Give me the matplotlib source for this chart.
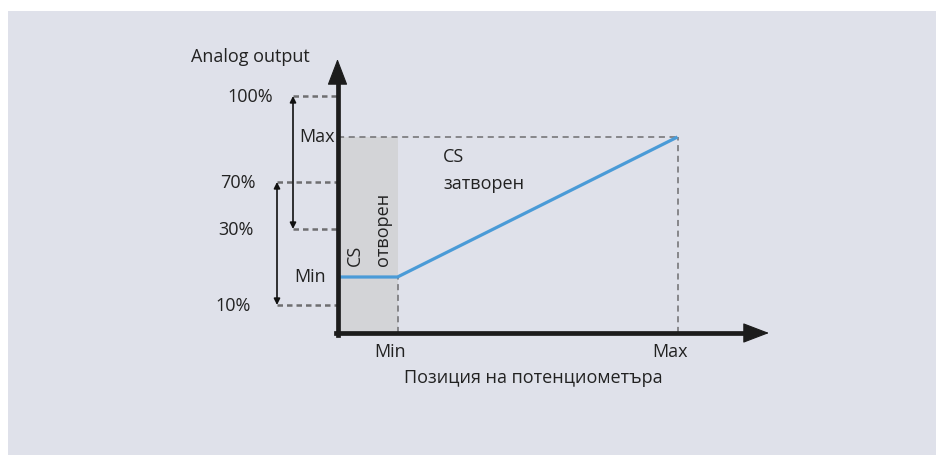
import matplotlib
matplotlib.use("Agg")
import matplotlib.pyplot as plt
from matplotlib.patches import Rectangle

plt.rcParams['font.family'] = ['Open Sans', 'DejaVu Sans']

# ---- data (chart units: origin at axes corner) ----
pos_min = 60          # potentiometer Min position
pos_max = 340         # potentiometer Max position
out_min = 56          # Min output level
out_max = 196         # Max output level
pct_labels = ["100%", "70%", "30%", "10%"]
pct_levels = [237, 151, 104, 28]
line_x = [2, pos_min, pos_max]
line_y = [out_min, out_min, out_max]
x_tick_labels = ["Min", "Max"]
x_tick_pos = [pos_min, pos_max]

W, H = 936, 456
OX, OY = 337.5, 334
fig = plt.figure(figsize=(W / 100, H / 100), dpi=100, facecolor='white')
ax = fig.add_axes([0, 0, 1, 1])
ax.set_xlim(-OX, W - OX)
ax.set_ylim(OY - H, OY)
ax.axis('off')

def px(x):
    return x - OX

def py(y):
    return OY - y

# panel background
ax.add_patch(Rectangle((px(8), py(456)), W - 8, 456 - 12, facecolor='#dfe1ea', edgecolor='none', zorder=0))

txt = '#222222'
fs = 13

# gray shaded region
ax.add_patch(Rectangle((2, 0), pos_min - 2, out_max, facecolor='#d3d4d7', edgecolor='none', zorder=1))

# dashed guides
dash_c = '#6e6e70'
ax.plot([0, pos_max], [out_max, out_max], color=dash_c, lw=1.1, ls=(0, (4, 3)), zorder=2)
ax.plot([pos_min, pos_min], [0, out_min], color=dash_c, lw=1.1, ls=(0, (4, 3)), zorder=2)
ax.plot([pos_max, pos_max], [0, out_max], color=dash_c, lw=1.1, ls=(0, (4, 3)), zorder=2)

left_starts = [px(293), px(277), px(293), px(277)]
for lvl, xs in zip(pct_levels, left_starts):
    ax.plot([xs, 0], [lvl, lvl], color=dash_c, lw=1.8, ls=(0, (2.2, 1.6)), zorder=2)

# double arrows (ranges)
arr_kw = dict(arrowstyle='<|-|>', color='#111111', lw=1.2, mutation_scale=9, shrinkA=0, shrinkB=0)
ax.annotate('', xy=(px(293), pct_levels[0]), xytext=(px(293), pct_levels[2]), arrowprops=arr_kw, zorder=3)
ax.annotate('', xy=(px(277), pct_levels[1]), xytext=(px(277), pct_levels[3]), arrowprops=arr_kw, zorder=3)

# blue characteristic line
ax.plot(line_x, line_y, color='#4a9bd7', lw=2.3, solid_capstyle='butt', zorder=4)

# main axes: shafts + arrow heads
axis_c = '#1c1c1c'
ax.plot([0, 0], [-2, py(78)], color=axis_c, lw=3.4, solid_capstyle='projecting', zorder=5)
ax.plot([-2, px(750)], [0, 0], color=axis_c, lw=3.4, solid_capstyle='projecting', zorder=5)
head_kw = dict(arrowstyle='-|>,head_length=1.7,head_width=0.65', color=axis_c, lw=0.8,
               mutation_scale=10, shrinkA=0, shrinkB=0)
ax.annotate('', xy=(0, py(60)), xytext=(0, py(90)), arrowprops=head_kw, zorder=5)
ax.annotate('', xy=(px(769), 0), xytext=(px(740), 0), arrowprops=head_kw, zorder=5)

# y labels
pct_right = [273, 256, 254, 251]
for lab, lvl, r in zip(pct_labels, pct_levels, pct_right):
    ax.text(px(r), lvl, lab, ha='right', va='center', fontsize=fs, color=txt)
ax.text(-2.5, out_max + 1, "Max", ha='right', va='center', fontsize=fs, color=txt)
ax.text(px(326), out_min + 1, "Min", ha='right', va='center', fontsize=fs, color=txt)
ax.text(px(250), py(57), "Analog output", ha='center', va='center', fontsize=fs, color=txt)

# x labels
for lab, xp in zip(x_tick_labels, x_tick_pos):
    ax.text(xp - 7, py(352), lab, ha='center', va='center', fontsize=fs, color=txt)
ax.text(px(533), py(378), "Позиция на потенциометъра", ha='center', va='center', fontsize=fs, color=txt)

# region labels
ax.text(px(443), py(157), "CS", ha='left', va='center', fontsize=fs, color=txt)
ax.text(px(443), py(184), "затворен", ha='left', va='center', fontsize=fs, color=txt)
ax.text(px(364), py(266), "CS", ha='left', va='bottom', rotation=90, rotation_mode='anchor', fontsize=fs, color=txt)
ax.text(px(392), py(266), "отворен", ha='left', va='bottom', rotation=90, rotation_mode='anchor', fontsize=fs, color=txt)

fig.savefig('out.png', dpi=100, facecolor='white')
